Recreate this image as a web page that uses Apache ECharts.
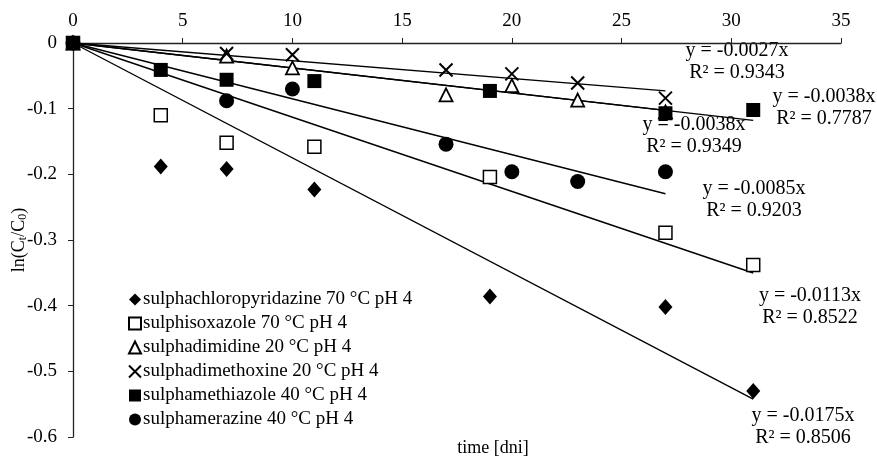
<!DOCTYPE html>
<html>
<head>
<meta charset="utf-8">
<script src="https://cdn.jsdelivr.net/npm/echarts@6/dist/echarts.min.js"></script>
<style>
  html, body { margin: 0; padding: 0; background: #fff; }
  #chart { width: 877px; height: 459px; }
</style>
</head>
<body>
<div id="chart"></div>
<script>
// series names (legend)
const seriesNames = [
    'sulphachloropyridazine 70 °C pH 4',
    'sulphisoxazole 70 °C pH 4',
    'sulphadimidine 20 °C pH 4',
    'sulphadimethoxine 20 °C pH 4',
    'sulphamethiazole 40 °C pH 4',
    'sulphamerazine 40 °C pH 4'
];

// measured points: time [days] and ln(Ct/C0)
const chloroX = [0, 4, 7, 11, 19, 27, 31];
const chloroY = [0, -0.188, -0.192, -0.223, -0.386, -0.402, -0.530];
const isoxX = [0, 4, 7, 11, 19, 27, 31];
const isoxY = [0, -0.110, -0.152, -0.158, -0.204, -0.289, -0.338];
const dimidX = [0, 7, 10, 17, 20, 23, 27];
const dimidY = [0, -0.020, -0.038, -0.079, -0.065, -0.087, -0.105];
const dimethX = [0, 7, 10, 17, 20, 23, 27];
const dimethY = [0, -0.016, -0.018, -0.041, -0.047, -0.061, -0.084];
const methX = [0, 4, 7, 11, 19, 27, 31];
const methY = [0, -0.041, -0.056, -0.058, -0.073, -0.107, -0.102];
const merX = [0, 7, 10, 17, 20, 23, 27];
const merY = [0, -0.088, -0.070, -0.154, -0.196, -0.211, -0.196];

// linear fits through origin
const slopes = [-0.0175, -0.0113, -0.0038, -0.0027, -0.0038, -0.0085];
const rSquared = ['0.8506', '0.8522', '0.9349', '0.9343', '0.7787', '0.9203'];
const fitEnds = [31, 31, 27, 27, 31, 27];

// axis ticks
const xTicks = [0, 5, 10, 15, 20, 25, 30, 35];
const yTicks = [0, -0.1, -0.2, -0.3, -0.4, -0.5, -0.6];

const xs = [chloroX, isoxX, dimidX, dimethX, methX, merX];
const ys = [chloroY, isoxY, dimidY, dimethY, methY, merY];

// marker styles
const crossPath = 'path://M0,0 L10,10 M10,0 L0,10';
const markers = [
    { symbol: 'diamond', size: [14, 16], fill: '#000', border: '#000', bw: 0 },
    { symbol: 'rect', size: 13, fill: '#fff', border: '#000', bw: 1.5 },
    { symbol: 'triangle', size: 13, fill: '#fff', border: '#000', bw: 1.8 },
    { symbol: crossPath, size: 13, fill: 'rgba(0,0,0,0)', border: '#000', bw: 2 },
    { symbol: 'rect', size: 14, fill: '#000', border: '#000', bw: 0 },
    { symbol: 'circle', size: 15, fill: '#000', border: '#000', bw: 0 }
];

// equation label centres (pixels)
const labelPos = [[803, 427], [810, 307], [694, 136], [737, 62], [824, 108], [754, 200]];

const serif = 'Liberation Serif';
const chart = echarts.init(document.getElementById('chart'));

const series = [];
slopes.forEach((k, i) => {
    series.push({
        type: 'line',
        data: [[0, 0], [fitEnds[i], k * fitEnds[i]]],
        symbol: 'none',
        silent: true,
        lineStyle: { color: '#000', width: 1.4 },
        z: 1
    });
});
seriesNames.forEach((name, i) => {
    const m = markers[i];
    series.push({
        name: name,
        type: 'scatter',
        data: xs[i].map((x, j) => [x, ys[i][j]]),
        symbol: m.symbol,
        symbolSize: m.size,
        itemStyle: { color: m.fill, borderColor: m.border, borderWidth: m.bw, opacity: 1 },
        z: 3
    });
});

const graphics = slopes.map((k, i) => ({
    type: 'text',
    x: labelPos[i][0],
    y: labelPos[i][1],
    style: {
        text: 'y = ' + k.toFixed(4) + 'x\nR² = ' + rSquared[i],
        font: '20px "' + serif + '"',
        fill: '#000',
        align: 'center',
        verticalAlign: 'middle',
        lineHeight: 22
    }
}));
graphics.push({
    type: 'text',
    x: 493,
    y: 448,
    style: {
        text: 'time [dni]',
        font: '18px "' + serif + '"',
        fill: '#000',
        align: 'center',
        verticalAlign: 'middle'
    }
});

chart.setOption({
    animation: false,
    backgroundColor: '#fff',
    grid: { left: 73, top: 43, width: 768, height: 394, containLabel: false, outerBoundsMode: 'none' },
    legend: {
        data: seriesNames,
        orient: 'vertical',
        left: 123,
        top: 285,
        itemWidth: 12,
        itemHeight: 12,
        itemGap: 5,
        textStyle: { fontFamily: serif, fontSize: 19, lineHeight: 19, color: '#000', padding: [0, 0, 0, -3] }
    },
    xAxis: {
        type: 'value',
        position: 'top',
        min: 0,
        max: 35,
        interval: 5,
        axisLine: { onZero: false, lineStyle: { color: '#222', width: 1.3 } },
        axisTick: { show: true, inside: false, length: 5, lineStyle: { color: '#222' } },
        axisLabel: { margin: 12, fontFamily: serif, fontSize: 19, color: '#000' },
        splitLine: { show: false }
    },
    yAxis: {
        type: 'value',
        min: -0.6,
        max: 0,
        interval: 0.1,
        axisLine: { show: true, onZero: false, lineStyle: { color: '#222', width: 1.3 } },
        axisTick: { show: true, length: 5, lineStyle: { color: '#222' } },
        axisLabel: {
            margin: 16,
            fontFamily: serif,
            fontSize: 19,
            color: '#000',
            formatter: v => (yTicks.includes(Math.round(v * 10) / 10) ? String(Math.round(v * 10) / 10) : '')
        },
        splitLine: { show: false },
        name: '{a|ln(C}{s|t}{a|/C}{s|0}{a|)}',
        nameLocation: 'middle',
        nameRotate: 90,
        nameGap: 44,
        nameMoveOverlap: false,
        nameTextStyle: {
            rich: {
                a: { fontFamily: serif, fontSize: 18, color: '#000' },
                s: { fontFamily: serif, fontSize: 12, color: '#000', padding: [8, 0, 0, 0] }
            }
        }
    },
    graphic: graphics,
    series: series
});

window.addEventListener('resize', () => chart.resize());
</script>
</body>
</html>
